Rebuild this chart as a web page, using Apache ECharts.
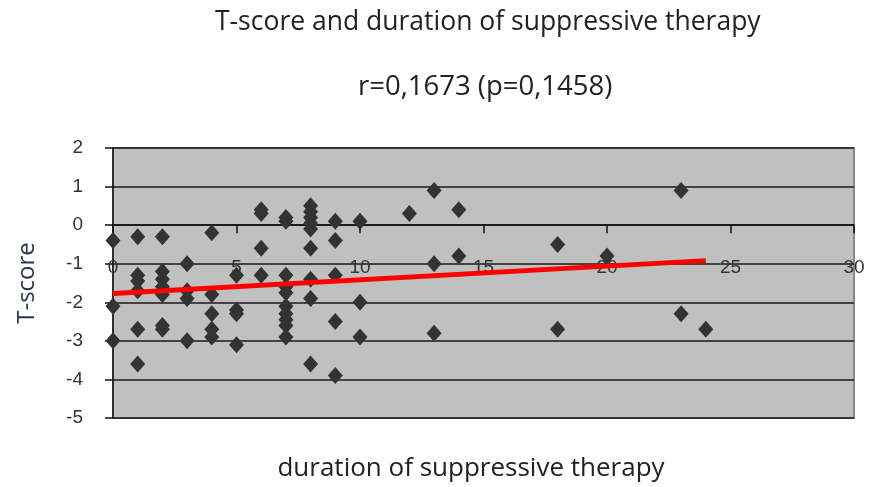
<!DOCTYPE html>
<html>
<head>
<meta charset="utf-8">
<script src="https://cdn.jsdelivr.net/npm/echarts@6/dist/echarts.min.js"></script>
<style>
html,body{margin:0;padding:0;background:#fff;}
#c{width:871px;height:487px;}
</style>
</head>
<body>
<div id="c"></div>
<script>
// Duration of suppressive therapy (x) and T-score (y)
const durations = [
  0,0,0,
  1,1,1,1,1,1,
  2,2,2,2,2,2,2,
  3,3,3,3,
  4,4,4,4,4,
  5,5,5,5,
  6,6,6,6,
  7,7,7,7,7,7,7,7,7,7,
  8,8,8,8,8,8,8,8,8,
  9,9,9,9,9,
  10,10,10,
  12,
  13,13,13,
  14,14,
  18,18,
  20,
  23,23,
  24
];
const tScores = [
  -0.4,-2.1,-3.0,
  -0.3,-1.3,-1.45,-1.7,-2.7,-3.6,
  -0.3,-1.2,-1.4,-1.6,-1.8,-2.6,-2.7,
  -1.0,-1.7,-1.9,-3.0,
  -0.2,-1.8,-2.3,-2.7,-2.9,
  -1.3,-2.2,-2.3,-3.1,
  0.3,0.4,-0.6,-1.3,
  0.2,0.1,-1.3,-1.6,-1.75,-2.1,-2.3,-2.45,-2.6,-2.9,
  0.5,0.35,0.2,0.05,-0.1,-0.6,-1.4,-1.9,-3.6,
  0.1,-0.4,-1.3,-2.5,-3.9,
  0.1,-2.0,-2.9,
  0.3,
  0.9,-1.0,-2.8,
  0.4,-0.8,
  -0.5,-2.7,
  -0.8,
  0.9,-2.3,
  -2.7
];
// Trend line end points
const trendX = [0, 24];
const trendY = [-1.77, -0.92];

const titleText = 'T-score and duration of suppressive therapy';
const subtitleText = 'r=0,1673 (p=0,1458)';
const xAxisName = 'duration of suppressive therapy';
const yAxisName = 'T-score';

const points = durations.map((d, i) => [d, tScores[i]]);
const trend = trendX.map((d, i) => [d, trendY[i]]);

const chart = echarts.init(document.getElementById('c'), null, {renderer: 'canvas'});
const titleFont = '"Open Sans", sans-serif';
chart.setOption({
  animation: false,
  backgroundColor: '#ffffff',
  title: [
    {text: titleText, left: 210, top: 4, textStyle: {fontFamily: titleFont, fontSize: 26.5, fontWeight: 'normal', color: '#222'}},
    {text: subtitleText, left: 353, top: 68, textStyle: {fontFamily: titleFont, fontSize: 27.5, fontWeight: 'normal', color: '#222'}}
  ],
  grid: {
    left: 113, right: 17, top: 148, bottom: 69,
    outerBoundsMode: 'none', containLabel: false,
    show: true, backgroundColor: '#c0c0c0', borderColor: '#8a8a8a', borderWidth: 2
  },
  xAxis: {
    type: 'value', min: 0, max: 30, interval: 5,
    name: xAxisName, nameLocation: 'middle', nameGap: 38,
    nameTextStyle: {fontFamily: titleFont, fontSize: 26, color: '#222', padding: [0, 25, 0, 0]},
    axisLine: {show: true, onZero: true, lineStyle: {color: '#111', width: 1.5}},
    axisTick: {show: true, inside: false, length: 8, lineStyle: {color: '#111', width: 1.5}},
    axisLabel: {margin: -160, fontFamily: '"Liberation Sans", Arial, sans-serif', fontSize: 19, color: '#333'},
    splitLine: {show: false}
  },
  yAxis: {
    type: 'value', min: -5, max: 2, interval: 1,
    name: yAxisName, nameLocation: 'middle', nameGap: 74, nameRotate: 90,
    nameTextStyle: {fontFamily: titleFont, fontSize: 24, color: '#2a3350'},
    axisLine: {show: true, onZero: false, lineStyle: {color: '#111', width: 1.5}},
    axisTick: {show: true, length: 8, lineStyle: {color: '#111', width: 1.5}},
    axisLabel: {margin: 30, fontFamily: '"Liberation Sans", Arial, sans-serif', fontSize: 19, color: '#333'},
    splitLine: {show: true, lineStyle: {color: '#1a1a1a', width: 1.5}}
  },
  series: [
    {
      type: 'scatter', data: points, symbol: 'diamond', symbolSize: [15, 17],
      itemStyle: {color: '#333333', opacity: 1}, z: 3
    },
    {
      type: 'line', data: trend, symbol: 'none', z: 4,
      lineStyle: {color: '#ff0000', width: 5}
    }
  ]
});
</script>
</body>
</html>
